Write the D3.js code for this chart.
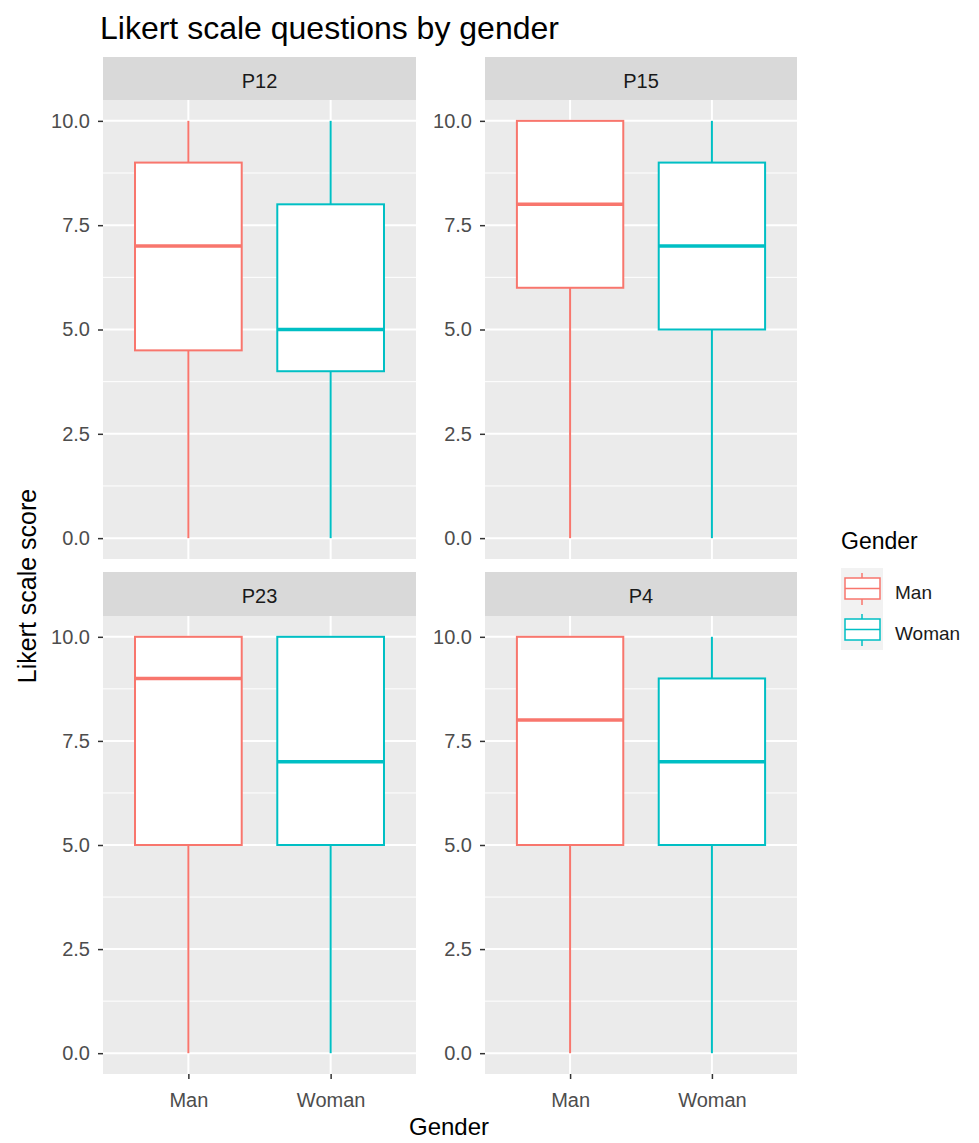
<!DOCTYPE html>
<html>
<head>
<meta charset="utf-8">
<script src="https://cdn.jsdelivr.net/npm/d3@7"></script>
<style>
  body { margin: 0; background: #fff; }
  text { font-family: 'Liberation Sans', Arial, sans-serif; }
</style>
</head>
<body>
<div id="chart"></div>
<script>
const questions = ['P12', 'P15', 'P23', 'P4']
const genders = ['Man', 'Woman']
const yTicks = [0, 2.5, 5, 7.5, 10]
const yMinor = [1.25, 3.75, 6.25, 8.75]

// min, q1, median, q3, max for each question
const manStats = [
  [0, 4.5, 7, 9, 10],
  [0, 6, 8, 10, 10],
  [0, 5, 9, 10, 10],
  [0, 5, 8, 10, 10]
]
const womanStats = [
  [0, 4, 5, 8, 10],
  [0, 5, 7, 9, 10],
  [0, 5, 7, 10, 10],
  [0, 5, 7, 9, 10]
]

const colors = { Man: '#F8766D', Woman: '#00BFC4' }

const dims = { width: 979, height: 1143 }
const cols = [{ x0: 103, x1: 416 }, { x0: 485, x1: 797 }]
const rows = [{ strip: 57, y0: 100, y1: 559 }, { strip: 572, y0: 616, y1: 1074 }]
const font = "'Liberation Sans', Arial, sans-serif"

const svg = d3.select('#chart')
  .append('svg')
  .attr('width', dims.width)
  .attr('height', dims.height)

svg.append('text')
  .attr('x', 100)
  .attr('y', 39)
  .attr('font-size', 32)
  .attr('fill', '#000')
  .text('Likert scale questions by gender')

questions.forEach((q, i) => {
  const col = cols[i % 2]
  const row = rows[Math.floor(i / 2)]

  const x = d3.scalePoint().domain(genders).range([col.x0, col.x1]).padding(0.6)
  const y = d3.scaleLinear().domain([-0.5, 10.5]).range([row.y1, row.y0])
  const boxW = x.step() * 0.75

  const g = svg.append('g')

  // strip
  g.append('rect')
    .attr('x', col.x0).attr('y', row.strip)
    .attr('width', col.x1 - col.x0).attr('height', row.y0 - row.strip)
    .attr('fill', '#D9D9D9')
  g.append('text')
    .attr('x', (col.x0 + col.x1) / 2)
    .attr('y', (row.strip + row.y0) / 2 + 2)
    .attr('dy', '0.35em')
    .attr('text-anchor', 'middle')
    .attr('font-size', 20)
    .attr('fill', '#1A1A1A')
    .text(q)

  // panel
  g.append('rect')
    .attr('x', col.x0).attr('y', row.y0)
    .attr('width', col.x1 - col.x0).attr('height', row.y1 - row.y0)
    .attr('fill', '#EBEBEB')

  g.selectAll('.minor')
    .data(yMinor)
    .join('line')
    .attr('x1', col.x0).attr('x2', col.x1)
    .attr('y1', d => y(d)).attr('y2', d => y(d))
    .attr('stroke', '#fff').attr('stroke-width', 1)

  g.selectAll('.major')
    .data(yTicks)
    .join('line')
    .attr('x1', col.x0).attr('x2', col.x1)
    .attr('y1', d => y(d)).attr('y2', d => y(d))
    .attr('stroke', '#fff').attr('stroke-width', 2)

  g.selectAll('.vmajor')
    .data(genders)
    .join('line')
    .attr('x1', d => x(d)).attr('x2', d => x(d))
    .attr('y1', row.y0).attr('y2', row.y1)
    .attr('stroke', '#fff').attr('stroke-width', 2)

  // y axis
  const yAxis = d3.axisLeft(y)
    .tickValues(yTicks)
    .tickFormat(d3.format('.1f'))
    .tickSize(5)
    .tickPadding(8)
  const ya = g.append('g')
    .attr('transform', `translate(${col.x0},0)`)
    .call(yAxis)
  ya.select('.domain').remove()
  ya.selectAll('line').attr('stroke', '#333').attr('stroke-width', 1.5)
  ya.selectAll('text').attr('fill', '#4D4D4D').attr('font-size', 20)
    .attr('font-family', font)

  // x axis on bottom row only
  if (i >= 2) {
    const xAxis = d3.axisBottom(x).tickSize(5).tickPadding(14)
    const xa = g.append('g')
      .attr('transform', `translate(0,${row.y1})`)
      .call(xAxis)
    xa.select('.domain').remove()
    xa.selectAll('line').attr('stroke', '#333').attr('stroke-width', 1.5)
    xa.selectAll('text').attr('fill', '#4D4D4D').attr('font-size', 20)
      .attr('font-family', font)
  }

  // boxes
  const stats = genders.map(gd => ({ gender: gd, s: gd === 'Man' ? manStats[i] : womanStats[i] }))
  const box = g.selectAll('.box')
    .data(stats)
    .join('g')

  box.append('line')
    .attr('x1', d => x(d.gender)).attr('x2', d => x(d.gender))
    .attr('y1', d => y(d.s[0])).attr('y2', d => y(d.s[1]))
    .attr('stroke', d => colors[d.gender]).attr('stroke-width', 2)
  box.append('line')
    .attr('x1', d => x(d.gender)).attr('x2', d => x(d.gender))
    .attr('y1', d => y(d.s[3])).attr('y2', d => y(d.s[4]))
    .attr('stroke', d => colors[d.gender]).attr('stroke-width', 2)
  box.append('rect')
    .attr('x', d => x(d.gender) - boxW / 2)
    .attr('y', d => y(d.s[3]))
    .attr('width', boxW)
    .attr('height', d => y(d.s[1]) - y(d.s[3]))
    .attr('fill', '#fff')
    .attr('stroke', d => colors[d.gender]).attr('stroke-width', 2)
  box.append('line')
    .attr('x1', d => x(d.gender) - boxW / 2).attr('x2', d => x(d.gender) + boxW / 2)
    .attr('y1', d => y(d.s[2])).attr('y2', d => y(d.s[2]))
    .attr('stroke', d => colors[d.gender]).attr('stroke-width', 3.5)
})

// axis titles
svg.append('text')
  .attr('x', 449)
  .attr('y', 1135)
  .attr('text-anchor', 'middle')
  .attr('font-size', 24)
  .text('Gender')

svg.append('text')
  .attr('transform', `translate(36,586) rotate(-90)`)
  .attr('text-anchor', 'middle')
  .attr('font-size', 25)
  .text('Likert scale score')

// legend
const legend = svg.append('g').attr('transform', 'translate(841,549)')
legend.append('text')
  .attr('x', 0).attr('y', 0)
  .attr('font-size', 23)
  .text('Gender')

const key = legend.selectAll('.key')
  .data(genders)
  .join('g')
  .attr('transform', (d, i) => `translate(0,${19 + i * 41})`)

key.append('rect')
  .attr('width', 42).attr('height', 41)
  .attr('fill', '#F2F2F2')
key.append('line')
  .attr('x1', 21).attr('x2', 21).attr('y1', 5).attr('y2', 37)
  .attr('stroke', d => colors[d]).attr('stroke-width', 1.5)
key.append('rect')
  .attr('x', 4).attr('y', 10).attr('width', 35).attr('height', 21)
  .attr('fill', '#fff')
  .attr('stroke', d => colors[d]).attr('stroke-width', 1.5)
key.append('line')
  .attr('x1', 4).attr('x2', 39).attr('y1', 20.5).attr('y2', 20.5)
  .attr('stroke', d => colors[d]).attr('stroke-width', 1.5)
key.append('text')
  .attr('x', 54).attr('y', 24)
  .attr('dy', '0.35em')
  .attr('font-size', 19)
  .attr('fill', '#1A1A1A')
  .text(d => d)
</script>
</body>
</html>
